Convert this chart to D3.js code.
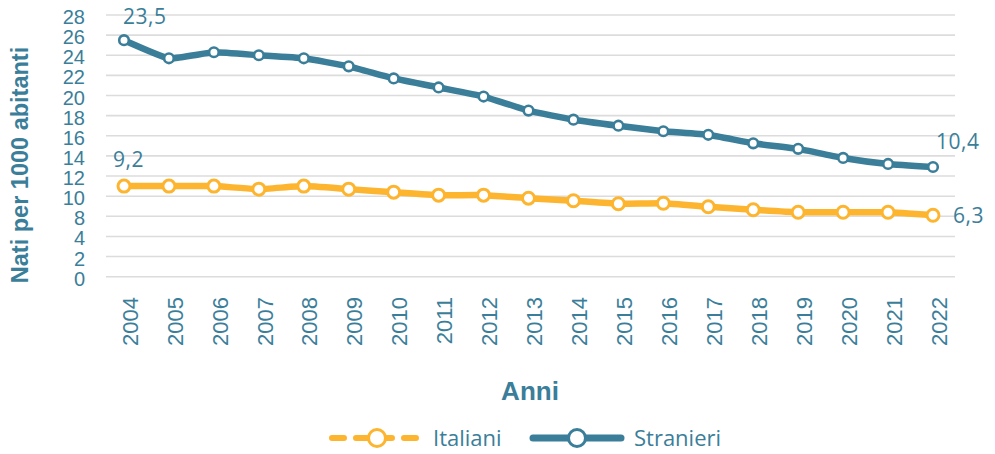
<!DOCTYPE html>
<html>
<head>
    <meta charset="utf-8">
    <title>Nati per 1000 abitanti</title>
    <script src="https://d3js.org/d3.v7.min.js"></script>
    <style>
        body { margin: 0; background: #fff; }
    </style>
</head>
<body>
    <script>
        // data
        var years = ["2004", "2005", "2006", "2007", "2008", "2009", "2010", "2011", "2012", "2013",
            "2014", "2015", "2016", "2017", "2018", "2019", "2020", "2021", "2022"];
        var stranieri = [25.5, 23.7, 24.3, 24.0, 23.7, 22.9, 21.7, 20.8, 19.9, 18.5,
            17.6, 17.0, 16.45, 16.1, 15.25, 14.7, 13.8, 13.2, 12.9];
        var italiani = [11.0, 11.0, 11.0, 10.7, 11.0, 10.7, 10.4, 10.1, 10.1, 9.8,
            9.55, 9.25, 9.3, 8.95, 8.65, 8.4, 8.4, 8.4, 8.1];
        // the axis in the source skips 6
        var yTicks = [0, 2, 4, 8, 10, 12, 14, 16, 18, 20, 22, 24, 26, 28];
        var dataLabels = [
            { series: "stranieri", year: "2004", text: "23,5" },
            { series: "italiani", year: "2004", text: "9,2" },
            { series: "stranieri", year: "2022", text: "10,4" },
            { series: "italiani", year: "2022", text: "6,3" }
        ];
        var legendItems = ["Italiani", "Stranieri"];

        var width = 995, height = 454;
        var teal = "#3b7e99", yellow = "#fdb52f";
        var plotLeft = 106, plotRight = 955, plotTop = 15, plotBottom = 276.7;

        var svg = d3.select("body").append("svg")
            .attr("width", width)
            .attr("height", height);

        var x = d3.scalePoint()
            .domain(years)
            .range([plotLeft + 18, plotRight - 22]);

        var step = (plotBottom - plotTop) / (yTicks.length - 1);
        var y = d3.scaleLinear()
            .domain(yTicks)
            .range(yTicks.map(function (d, i) { return plotBottom - i * step; }));

        // gridlines
        svg.append("g").selectAll("line")
            .data(yTicks)
            .join("line")
            .attr("x1", plotLeft)
            .attr("x2", plotRight)
            .attr("y1", d => y(d))
            .attr("y2", d => y(d))
            .style("stroke", "#dcdcdc")
            .style("stroke-width", 1.6);

        // y tick labels
        svg.append("g").selectAll("text")
            .data(yTicks)
            .join("text")
            .attr("x", 85)
            .attr("y", d => y(d) + 2)
            .attr("dy", "0.35em")
            .attr("text-anchor", "end")
            .style("font-family", "'Liberation Sans', Arial, sans-serif")
            .style("font-size", "20px")
            .style("fill", teal)
            .text(d => d);

        // y title
        svg.append("text")
            .attr("transform", "translate(22,165) rotate(-90)")
            .attr("text-anchor", "middle")
            .attr("dominant-baseline", "middle")
            .style("font-family", "'Liberation Sans', Arial, sans-serif")
            .style("font-weight", "bold")
            .style("font-size", "23.5px")
            .style("fill", teal)
            .text("Nati per 1000 abitanti");

        // x tick labels (rotated)
        svg.append("g").selectAll("text")
            .data(years)
            .join("text")
            .attr("transform", d => "translate(" + (x(d) + 6) + ",297) rotate(-90)")
            .attr("dy", "0.35em")
            .attr("text-anchor", "end")
            .style("font-family", "'Liberation Sans', Arial, sans-serif")
            .style("font-size", "22px")
            .style("fill", teal)
            .text(d => d);

        // x title
        svg.append("text")
            .attr("x", 530)
            .attr("y", 393)
            .attr("text-anchor", "middle")
            .attr("dominant-baseline", "middle")
            .style("font-family", "'Liberation Sans', Arial, sans-serif")
            .style("font-weight", "bold")
            .style("font-size", "26px")
            .style("fill", teal)
            .text("Anni");

        var line = d3.line()
            .x((d, i) => x(years[i]))
            .y(d => y(d))
            .curve(d3.curveCardinal.tension(0.6));

        function drawSeries(values, color, r, sw) {
            svg.append("path")
                .datum(values)
                .attr("d", line)
                .style("fill", "none")
                .style("stroke", color)
                .style("stroke-width", 6.5)
                .style("stroke-linejoin", "round");
            svg.append("g").selectAll("circle")
                .data(values)
                .join("circle")
                .attr("cx", (d, i) => x(years[i]))
                .attr("cy", d => y(d))
                .attr("r", r)
                .style("fill", "#fff")
                .style("stroke", color)
                .style("stroke-width", sw);
        }
        drawSeries(italiani, yellow, 6, 3);
        drawSeries(stranieri, teal, 4.8, 2.6);

        // data labels
        var labelFont = "'Open Sans', sans-serif";
        dataLabels.forEach(function (lab) {
            var vals = lab.series === "stranieri" ? stranieri : italiani;
            var v = vals[years.indexOf(lab.year)];
            var first = lab.year === years[0];
            var tx, ty;
            if (first) {
                tx = x(lab.year) - (lab.series === "stranieri" ? 1 : 11);
                ty = y(v) - (lab.series === "stranieri" ? 16 : 19);
            } else {
                tx = x(lab.year) + (lab.series === "stranieri" ? 3 : 20);
                ty = y(v) - (lab.series === "stranieri" ? 18 : -8);
            }
            svg.append("text")
                .attr("x", tx)
                .attr("y", ty)
                .style("font-family", labelFont)
                .style("font-size", "21px")
                .style("letter-spacing", "0.5px")
                .style("fill", teal)
                .text(lab.text);
        });

        // legend
        var legendY = 438;
        var lg = svg.append("g");
        // Italiani: dashed
        lg.append("line")
            .attr("x1", 332).attr("x2", 420)
            .attr("y1", legendY).attr("y2", legendY)
            .style("stroke", yellow)
            .style("stroke-width", 6)
            .style("stroke-linecap", "round")
            .style("stroke-dasharray", "12,12");
        lg.append("circle")
            .attr("cx", 377).attr("cy", legendY).attr("r", 8.5)
            .style("fill", "#fff").style("stroke", yellow).style("stroke-width", 3);
        lg.append("text")
            .attr("x", 433).attr("y", legendY)
            .attr("dy", "0.35em")
            .style("font-family", labelFont)
            .style("font-size", "22px")
            .style("fill", teal)
            .text(legendItems[0]);
        // Stranieri: solid
        lg.append("line")
            .attr("x1", 533).attr("x2", 621)
            .attr("y1", legendY).attr("y2", legendY)
            .style("stroke", teal)
            .style("stroke-width", 7)
            .style("stroke-linecap", "round");
        lg.append("circle")
            .attr("cx", 577).attr("cy", legendY).attr("r", 8.5)
            .style("fill", "#fff").style("stroke", teal).style("stroke-width", 3);
        lg.append("text")
            .attr("x", 634).attr("y", legendY)
            .attr("dy", "0.35em")
            .style("font-family", labelFont)
            .style("font-size", "22px")
            .style("fill", teal)
            .text(legendItems[1]);
    </script>
</body>
</html>
